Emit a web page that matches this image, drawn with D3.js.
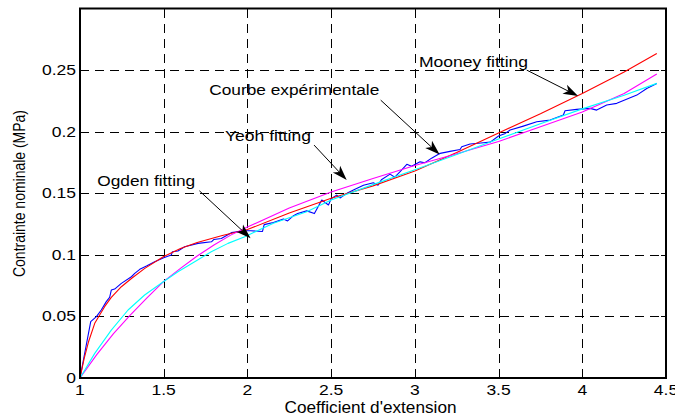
<!DOCTYPE html>
<html><head><meta charset="utf-8">
<script src="https://cdn.jsdelivr.net/npm/d3@7"></script>
<style>
html,body{margin:0;padding:0;background:#fff;}
text{font-family:"Liberation Sans",Arial,sans-serif;fill:#000;}
</style></head>
<body>
<svg id="chart" width="675" height="416"></svg>
<script>
// ---- data ----
const xTicks = [1, 1.5, 2, 2.5, 3, 3.5, 4, 4.5];
const yTicks = [0, 0.05, 0.1, 0.15, 0.2, 0.25];
const xTickLabels = ["1", "1.5", "2", "2.5", "3", "3.5", "4", "4.5"];
const yTickLabels = ["0", "0.05", "0.1", "0.15", "0.2", "0.25"];

const expX = [1, 1.064, 1.098, 1.127, 1.157, 1.177, 1.187, 1.207, 1.247, 1.307, 1.327, 1.357, 1.397, 1.446, 1.5, 1.545, 1.552, 1.585, 1.625, 1.705, 1.785, 1.80, 1.844, 1.904, 1.984, 2.02, 2.09, 2.10, 2.155, 2.215, 2.24, 2.275, 2.30, 2.354, 2.40, 2.444, 2.484, 2.50, 2.533, 2.553, 2.60, 2.633, 2.693, 2.752, 2.78, 2.80, 2.852, 2.88, 2.912, 2.952, 2.98, 3.031, 3.06, 3.10, 3.151, 3.21, 3.27, 3.28, 3.33, 3.41, 3.45, 3.50, 3.54, 3.569, 3.648, 3.728, 3.808, 3.887, 3.897, 3.967, 4.047, 4.086, 4.146, 4.206, 4.326, 4.385, 4.445];
const expY = [0, 0.0457, 0.0498, 0.0552, 0.062, 0.0655, 0.0714, 0.0722, 0.0768, 0.0822, 0.085, 0.0882, 0.0909, 0.0944, 0.0977, 0.0998, 0.1025, 0.1031, 0.1066, 0.1093, 0.1106, 0.1125, 0.1133, 0.118, 0.1195, 0.1195, 0.119, 0.1245, 0.1262, 0.129, 0.1275, 0.1318, 0.1335, 0.1357, 0.1335, 0.1445, 0.1405, 0.1455, 0.1485, 0.1462, 0.1505, 0.1526, 0.1565, 0.1585, 0.1565, 0.161, 0.1655, 0.163, 0.1675, 0.1735, 0.172, 0.1755, 0.1748, 0.1785, 0.1824, 0.184, 0.1855, 0.1877, 0.190, 0.191, 0.1915, 0.1965, 0.1986, 0.2013, 0.2045, 0.208, 0.2094, 0.2135, 0.217, 0.2181, 0.2189, 0.2175, 0.2216, 0.223, 0.2297, 0.2351, 0.2392];

const mooneyX = [1, 1.025, 1.05, 1.088, 1.147, 1.187, 1.247, 1.307, 1.387, 1.5, 1.6, 1.7, 1.85, 2.0, 2.25, 2.5, 2.75, 3.0, 3.25, 3.5, 3.75, 4.0, 4.25, 4.445];
const mooneyY = [0, 0.016, 0.029, 0.0444, 0.0579, 0.0655, 0.0741, 0.0808, 0.089, 0.0986, 0.1052, 0.110, 0.1157, 0.1205, 0.134, 0.146, 0.156, 0.168, 0.183, 0.199, 0.2145, 0.231, 0.2485, 0.2635];

const yeohX = [1, 1.1, 1.2, 1.3, 1.4, 1.5, 1.6, 1.7, 1.8, 1.9, 2.0, 2.25, 2.5, 2.75, 3.0, 3.25, 3.5, 3.75, 4.0, 4.25, 4.445];
const yeohY = [0, 0.019, 0.036, 0.051, 0.065, 0.0784, 0.089, 0.099, 0.108, 0.116, 0.1225, 0.138, 0.151, 0.162, 0.1725, 0.182, 0.192, 0.204, 0.216, 0.231, 0.2468];

const ogdenX = [1, 1.088, 1.187, 1.287, 1.386, 1.5, 1.585, 1.685, 1.784, 1.884, 1.984, 2.155, 2.354, 2.5, 2.75, 3.0, 3.25, 3.5, 3.75, 4.0, 4.25, 4.445];
const ogdenY = [0, 0.020, 0.0389, 0.0552, 0.0674, 0.0784, 0.0863, 0.0944, 0.1025, 0.1093, 0.1147, 0.1256, 0.135, 0.1445, 0.157, 0.169, 0.1815, 0.194, 0.2065, 0.2185, 0.2295, 0.2392];

// annotations: label, text anchor point (left, baseline), arrow start, arrow tip (data coords), text width
const annLabels = ["Mooney fitting", "Courbe expérimentale", "Yeoh fitting", "Ogden fitting"];
const annText = [[3.025, 0.2525], [1.772, 0.2297], [1.866, 0.1924], [1.103, 0.1558]];
const annFrom = [[3.668, 0.2500], [2.796, 0.2256], [2.398, 0.1891], [1.713, 0.1520]];
const annTip  = [[3.975, 0.2289], [3.148, 0.1814], [2.593, 0.1607], [2.019, 0.1134]];
const annWidth = [109, 170, 86, 98];

const xLabel = "Coefficient d'extension";
const yLabel = "Contrainte nominale (MPa)";

// ---- drawing ----
const svg = d3.select("#chart");
const L = 80, R = 666, T = 8.5, B = 378;
const x = d3.scaleLinear().domain([1, 4.5]).range([L, R]);
const y = d3.scaleLinear().domain([0, 0.3]).range([B, T]);

svg.append("rect").attr("width", 675).attr("height", 416).attr("fill", "#fff");

// grid
const g = svg.append("g");
g.selectAll(".gx").data(xTicks.filter(v => v > 1 && v < 4.5)).enter().append("line")
  .attr("x1", d => Math.round(x(d)) + 0.5).attr("x2", d => Math.round(x(d)) + 0.5)
  .attr("y1", B).attr("y2", T)
  .attr("stroke", "#000").attr("stroke-width", 1).attr("stroke-dasharray", "9,6");
g.selectAll(".gy").data(yTicks.filter(v => v > 0)).enter().append("line")
  .attr("y1", d => Math.round(y(d)) + 0.5).attr("y2", d => Math.round(y(d)) + 0.5)
  .attr("x1", L).attr("x2", R)
  .attr("stroke", "#000").attr("stroke-width", 1).attr("stroke-dasharray", "9,6");

// inward ticks
const tk = 5;
xTicks.forEach(v => {
  const px = Math.round(x(v)) + 0.5;
  g.append("line").attr("x1", px).attr("x2", px).attr("y1", B).attr("y2", B - tk).attr("stroke", "#000");
  g.append("line").attr("x1", px).attr("x2", px).attr("y1", T).attr("y2", T + tk).attr("stroke", "#000");
});
yTicks.forEach(v => {
  const py = Math.round(y(v)) + 0.5;
  g.append("line").attr("y1", py).attr("y2", py).attr("x1", L).attr("x2", L + tk).attr("stroke", "#000");
  g.append("line").attr("y1", py).attr("y2", py).attr("x1", R).attr("x2", R - tk).attr("stroke", "#000");
});

// series
const line = d3.line().x(d => x(d[0])).y(d => y(d[1]));
const series = [
  {xs: expX, ys: expY, color: "#0000ff"},
  {xs: mooneyX, ys: mooneyY, color: "#ff0000"},
  {xs: yeohX, ys: yeohY, color: "#ff00ff"},
  {xs: ogdenX, ys: ogdenY, color: "#00ffff"}
];
svg.append("g").selectAll("path").data(series).enter().append("path")
  .attr("d", s => line(s.xs.map((v, i) => [v, s.ys[i]])))
  .attr("fill", "none").attr("stroke", s => s.color).attr("stroke-width", 1.1)
  .attr("stroke-linejoin", "round");

// box
svg.append("rect").attr("x", L).attr("y", T).attr("width", R - L).attr("height", B - T)
  .attr("fill", "none").attr("stroke", "#000").attr("stroke-width", 2);

function stretch(sel, k) {
  sel.each(function() {
    const w = this.getComputedTextLength();
    d3.select(this).attr("textLength", w * k).attr("lengthAdjust", "spacingAndGlyphs");
  });
}

// tick labels
const xl = svg.append("g").selectAll("text").data(xTicks).enter().append("text")
  .attr("x", d => x(d)).attr("y", 395).attr("text-anchor", "middle")
  .style("font-size", "14px").text((d, i) => xTickLabels[i]);
stretch(xl, 1.25);
const yl = svg.append("g").selectAll("text").data(yTicks).enter().append("text")
  .attr("x", 76).attr("y", d => y(d) + 5).attr("text-anchor", "end")
  .style("font-size", "14px").text((d, i) => yTickLabels[i]);
stretch(yl, 1.25);

// axis labels
svg.append("text").attr("x", 370.5).attr("y", 413).attr("text-anchor", "middle")
  .style("font-size", "16px").attr("textLength", 172).attr("lengthAdjust", "spacingAndGlyphs").text(xLabel);
svg.append("text").attr("transform", "translate(25,193.5) rotate(-90)").attr("text-anchor", "middle")
  .style("font-size", "16px").attr("textLength", 167).attr("lengthAdjust", "spacingAndGlyphs").text(yLabel);

// annotations
const ann = svg.append("g");
annLabels.forEach((lab, i) => {
  ann.append("text").attr("x", x(annText[i][0])).attr("y", y(annText[i][1]))
    .style("font-size", "15.5px").attr("textLength", annWidth[i]).attr("lengthAdjust", "spacingAndGlyphs").text(lab);
  const x0 = x(annFrom[i][0]), y0 = y(annFrom[i][1]);
  const x1 = x(annTip[i][0]), y1 = y(annTip[i][1]);
  const dx = x1 - x0, dy = y1 - y0, len = Math.hypot(dx, dy);
  const ux = dx / len, uy = dy / len, nx = -uy, ny = ux;
  const hl = 15, hw = 5, notch = 11;
  ann.append("line").attr("x1", x0).attr("y1", y0).attr("x2", x1 - ux * notch).attr("y2", y1 - uy * notch)
    .attr("stroke", "#000").attr("stroke-width", 1);
  const bx = x1 - ux * hl, by = y1 - uy * hl;
  const pts = [[x1, y1], [bx + nx * hw, by + ny * hw], [x1 - ux * notch, y1 - uy * notch], [bx - nx * hw, by - ny * hw]];
  ann.append("path").attr("d", "M" + pts.map(p => p.join(",")).join("L") + "Z").attr("fill", "#000");
});
</script>
</body></html>
